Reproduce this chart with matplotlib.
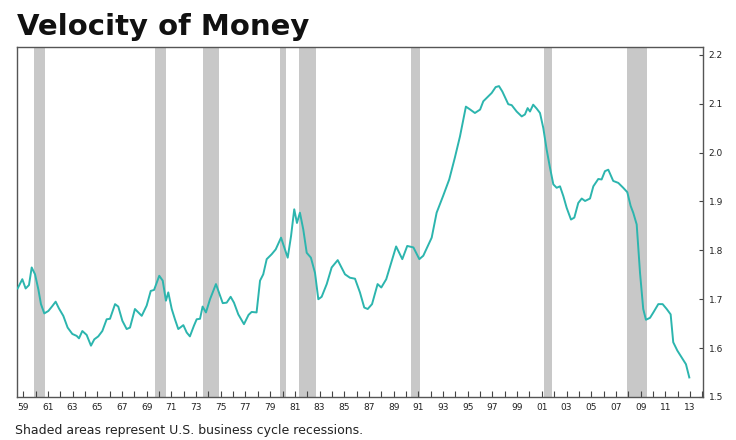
from matplotlib import pyplot as plt
import numpy as np

# velocity of money (M2)
years = [1959.05, 1959.43, 1959.7, 1959.97, 1960.19, 1960.46, 1960.73, 1960.94,
         1961.21, 1961.54, 1961.86, 1962.13, 1962.4, 1962.75, 1963.1, 1963.48,
         1963.83, 1964.02, 1964.29, 1964.64, 1964.99, 1965.26, 1965.58, 1965.91,
         1966.26, 1966.53, 1966.94, 1967.2, 1967.53, 1967.88, 1968.15, 1968.55,
         1969.1, 1969.5, 1969.83, 1970.1, 1970.52, 1970.8, 1971.06, 1971.25,
         1971.53, 1971.79, 1972.06, 1972.47, 1972.74, 1973.0, 1973.33, 1973.55,
         1973.82, 1974.03, 1974.3, 1974.63, 1975.11, 1975.38, 1975.66, 1975.98,
         1976.3, 1976.57, 1976.92, 1977.38, 1977.75, 1978.0, 1978.4, 1978.68,
         1978.94, 1979.22, 1979.62, 1979.95, 1980.38, 1980.64, 1980.92, 1981.19,
         1981.45, 1981.67, 1981.91, 1982.18, 1982.46, 1982.8, 1983.13, 1983.4,
         1983.67, 1984.08, 1984.48, 1984.97, 1985.56, 1985.96, 1986.37, 1986.77,
         1987.12, 1987.4, 1987.75, 1988.2, 1988.5, 1988.9, 1989.7, 1990.2,
         1990.6, 1991.1, 1991.58, 1991.9, 1992.58, 1992.98, 1993.5, 1994.0,
         1994.45, 1994.87, 1995.35, 1995.7, 1996.08, 1996.5, 1996.76, 1997.16,
         1997.44, 1997.76, 1998.03, 1998.3, 1998.78, 1999.06, 1999.46, 1999.87,
         2000.13, 2000.35, 2000.54, 2000.8, 2001.08, 2001.35, 2001.62, 2001.89,
         2002.16, 2002.43, 2002.7, 2002.97, 2003.24, 2003.51, 2003.86, 2004.13,
         2004.45, 2004.73, 2005.0, 2005.4, 2005.67, 2006.07, 2006.34, 2006.61,
         2006.88, 2007.28, 2007.69, 2008.09, 2008.42, 2008.69, 2008.9, 2009.18,
         2009.45, 2009.71, 2009.93, 2010.26, 2010.53, 2010.93, 2011.28, 2011.61,
         2011.93, 2012.14, 2012.47, 2012.82, 2013.17, 2013.44]
velocity = [1.722, 1.741, 1.722, 1.729, 1.765, 1.751, 1.720, 1.690,
            1.671, 1.676, 1.686, 1.695, 1.681, 1.666, 1.642, 1.629,
            1.625, 1.620, 1.635, 1.627, 1.605, 1.618, 1.624, 1.635,
            1.659, 1.660, 1.690, 1.685, 1.656, 1.639, 1.642, 1.680,
            1.666, 1.687, 1.717, 1.719, 1.748, 1.738, 1.697, 1.714,
            1.680, 1.659, 1.639, 1.647, 1.632, 1.624, 1.646, 1.659,
            1.660, 1.685, 1.673, 1.700, 1.731, 1.712, 1.692, 1.693,
            1.705, 1.693, 1.669, 1.649, 1.668, 1.674, 1.673, 1.738,
            1.751, 1.782, 1.792, 1.802, 1.826, 1.806, 1.785, 1.829,
            1.884, 1.856, 1.877, 1.843, 1.795, 1.785, 1.754, 1.700,
            1.705, 1.731, 1.765, 1.780, 1.751, 1.744, 1.742, 1.714,
            1.683, 1.680, 1.690, 1.731, 1.724, 1.741, 1.808, 1.782,
            1.809, 1.806, 1.782, 1.789, 1.826, 1.877, 1.911, 1.945,
            1.989, 2.033, 2.094, 2.088, 2.081, 2.088, 2.105, 2.115,
            2.122, 2.134, 2.136, 2.125, 2.099, 2.097, 2.084, 2.074,
            2.078, 2.091, 2.084, 2.098, 2.090, 2.081, 2.050, 2.006,
            1.969, 1.935, 1.928, 1.931, 1.911, 1.887, 1.863, 1.867,
            1.897, 1.906, 1.901, 1.906, 1.931, 1.946, 1.945, 1.962,
            1.965, 1.942, 1.938, 1.928, 1.919, 1.891, 1.877, 1.853,
            1.754, 1.680, 1.658, 1.662, 1.673, 1.690, 1.690, 1.680,
            1.669, 1.612, 1.595, 1.581, 1.567, 1.540]

# recession bands as drawn on the chart
rec_start = [1960.38, 1970.17, 1974.06, 1980.30, 1981.83, 1990.90, 2001.67, 2008.40]
rec_end = [1961.27, 1971.06, 1975.36, 1980.78, 1983.20, 1991.60, 2002.30, 2010.00]

label_years = list(range(1959, 2014, 2))
y_ticks = [1.5, 1.6, 1.7, 1.8, 1.9, 2.0, 2.1, 2.2]

fig = plt.figure(figsize=(7.36, 4.4), dpi=100)
ax = fig.add_axes([17/736, 43/440, 686/736, 350/440])

for s, e in zip(rec_start, rec_end):
    ax.axvspan(s, e, color='#c8c8c8', lw=0, zorder=1)

ax.plot(years, velocity, color='#2cb5ae', lw=1.4, zorder=3)

ax.set_xlim(1959.0, 2014.55)
ax.set_ylim(1.5, 2.216)

ax.set_xticks([y + 0.5 for y in label_years])
ax.set_xticklabels([f"{y % 100:02d}" for y in label_years])
ax.set_xticks([y + 0.5 for y in range(1959, 2015)], minor=True)
ax.tick_params(axis='x', which='both', direction='in', length=4, width=0.8,
               color='#444444', labelsize=6.5, pad=4, labelcolor='#222222')

ax.yaxis.tick_right()
ax.set_yticks(y_ticks)
ax.set_yticklabels([f"{v:.1f}" for v in y_ticks])
ax.tick_params(axis='y', direction='in', length=3, width=0.8, color='#444444',
               labelsize=6.5, pad=4, labelcolor='#222222')

for sp in ax.spines.values():
    sp.set_color('#555555')
    sp.set_linewidth(1.0)

fig.text(17/736, 1 - 35/440, "Velocity of Money", fontsize=21, fontweight='bold',
         color='#111111', va='baseline', ha='left')
fig.text(15/736, 1 - 434/440, "Shaded areas represent U.S. business cycle recessions.",
         fontsize=9, color='#222222', va='baseline', ha='left')

fig.savefig('out.png', dpi=100)
